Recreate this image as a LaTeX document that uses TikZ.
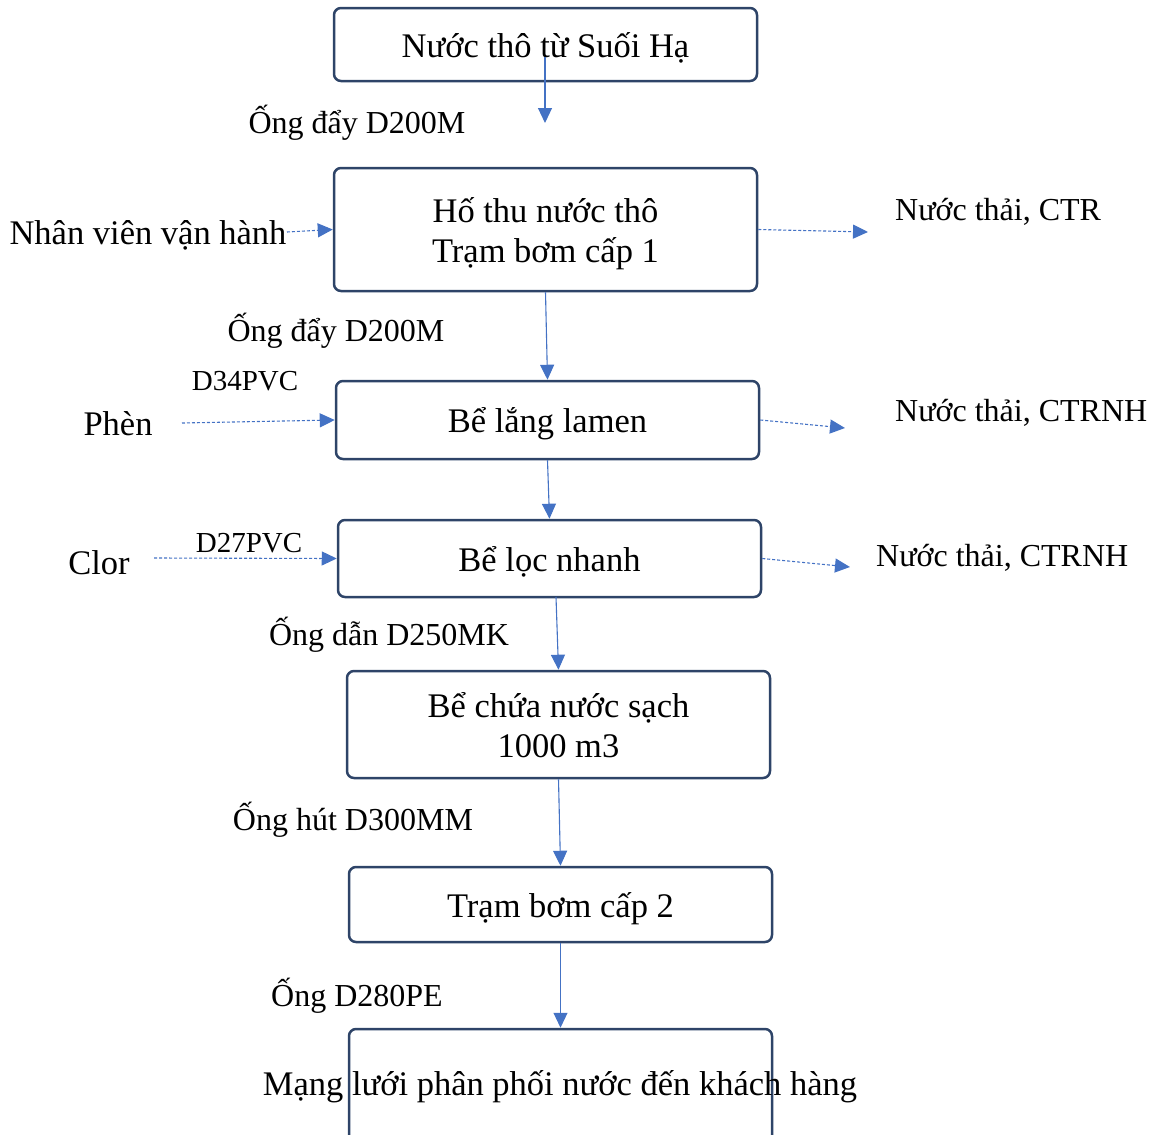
\documentclass[tikz,border=0pt]{standalone}
\usepackage{fontspec}
\setmainfont{Liberation Serif}
\usetikzlibrary{arrows.meta}
\definecolor{boxc}{HTML}{2E4468}
\definecolor{arrc}{HTML}{4472C4}
\tikzset{
  bigfont/.style={font=\fontsize{34.5}{40}\selectfont, text height=31pt, text depth=6pt},
  boxn/.style={draw=boxc, line width=2.5pt, rounded corners=7pt, minimum width=423pt, inner sep=0pt, align=center, bigfont},
  twoline/.style={text height=71pt},
  bigtxt/.style={inner sep=0pt, bigfont},
  lbl/.style={inner sep=0pt, font=\fontsize{32}{38}\selectfont, text height=29pt, text depth=6pt},
  smlbl/.style={inner sep=0pt, font=\fontsize{29}{34}\selectfont, text height=26pt, text depth=5pt},
  flow/.style={draw=arrc, line width=1.1pt, -{Triangle[length=15pt,width=14pt]}},
  dflow/.style={draw=arrc, line width=1.1pt, dash pattern=on 3pt off 2pt, -{Triangle[length=15pt,width=14pt]}},
}
\begin{document}
\begin{tikzpicture}[x=1pt,y=-1pt]
\useasboundingbox (0,0) rectangle (1154,1135);
\clip (0,0) rectangle (1154,1135);
% boxes
\node[boxn, minimum height=73pt] (b1) at (545.5,44.5) {Nước thô từ Suối Hạ};
\node[boxn, twoline, minimum height=123pt] (b2) at (545.5,229.5) {Hố thu nước thô\\Trạm bơm cấp 1};
\node[boxn, minimum height=78pt] (b3) at (547.5,420) {Bể lắng lamen};
\node[boxn, minimum height=77pt] (b4) at (549.5,558.5) {Bể lọc nhanh};
\node[boxn, twoline, minimum height=107pt] (b5) at (558.5,724.5) {Bể chứa nước sạch\\1000 m3};
\node[boxn, minimum height=75pt] (b6) at (560.5,904.5) {Trạm bơm cấp 2};
\node[boxn, minimum height=131pt] (b7) at (560.5,1094.5) {};
\node[bigtxt] (t7) at (560,1083) {Mạng lưới phân phối nước đến khách hàng};
% labels
\node[lbl] (l1) at (357,122) {Ống đẩy D200M};
\node[lbl] (l2) at (336,330) {Ống đẩy D200M};
\node[lbl] (l3) at (389,634) {Ống dẫn D250MK};
\node[lbl] (l4) at (353,819) {Ống hút D300MM};
\node[lbl] (l5) at (357,995) {Ống D280PE};
\node[bigtxt] (nv) at (148,232) {Nhân viên vận hành};
\node[lbl, anchor=west] (w1) at (895,209) {Nước thải, CTR};
\node[lbl, anchor=west] (w2) at (895,410) {Nước thải, CTRNH};
\node[lbl, anchor=west] (w3) at (876,555) {Nước thải, CTRNH};
\node[bigtxt] (ph) at (118,423) {Phèn};
\node[bigtxt] (cl) at (99,562) {Clor};
\node[smlbl] (d34) at (245,380) {D34PVC};
\node[smlbl] (d27) at (249,542) {D27PVC};
% coordinates
\coordinate (a1s) at (545,57);
\coordinate (a1e) at (545,123);
\coordinate (a4s) at (556,597);
\coordinate (r1) at (868,232);
\coordinate (r2) at (845,428);
\coordinate (r3) at (850,567);
\coordinate (p1) at (182,423);
\coordinate (c1) at (154,558);
\coordinate (n1) at (287,232);
% connectors
\draw[flow] (a1s) -- (a1e);
\draw[flow] (b2.south) -- (b3.north);
\draw[flow] (b3.south) -- (b4.north);
\draw[flow] (a4s) -- (b5.north);
\draw[flow] (b5.south) -- (b6.north);
\draw[flow] (b6.south) -- (b7.north);
\draw[dflow] (n1) -- (b2.west);
\draw[dflow] (b2.east) -- (r1);
\draw[dflow] (p1) -- (b3.west);
\draw[dflow] (b3.east) -- (r2);
\draw[dflow] (c1) -- (b4.west);
\draw[dflow] (b4.east) -- (r3);
\end{tikzpicture}
\end{document}
